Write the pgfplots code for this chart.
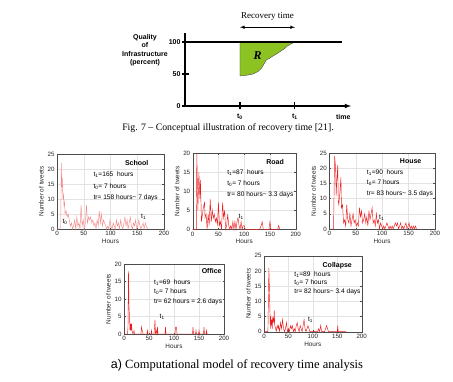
\documentclass[border=0pt]{standalone}
\usepackage{pgfplots}
\pgfplotsset{compat=1.18}
\usepackage{fontspec}
\setmainfont{Liberation Serif}
\setsansfont{Liberation Sans}
\definecolor{mred}{RGB}{235,30,30}
\definecolor{pinkred}{RGB}{245,140,140}
\definecolor{rgreen}{RGB}{140,195,35}
\pgfplotsset{
  small/.style={scale only axis, anchor=south west, xmin=0, xmax=200, ymin=0,
    xtick={0,50,...,200}, grid=major, grid style={gray!22, line width=0.3pt},
    axis line style={gray!60!black, line width=0.35pt},
    tick style={gray!60!black, line width=0.3pt}, major tick length=1.5pt, tick align=inside,
    /pgf/number format/assume math mode=true,
    ticklabel style={font=\sffamily\fontsize{6.2}{7}\selectfont, text=gray!30!black},
    xlabel={Hours}, ylabel={Number of tweets},
    label style={font=\sffamily\fontsize{6.4}{7}\selectfont, text=gray!30!black},
    xlabel style={yshift=3.5pt}, ylabel style={yshift=-3pt},
    xticklabel style={yshift=1pt}, yticklabel style={xshift=1pt},
    clip=false},
}
\tikzset{
  ann/.style={font=\sffamily\fontsize{6.6}{7}\selectfont, anchor=west, inner sep=0pt},
  ttl/.style={font=\sffamily\bfseries\fontsize{7}{7}\selectfont, inner sep=0pt},
}
\begin{document}
\begin{tikzpicture}
\path (0pt,0pt) rectangle (453pt,381pt);
% ---------------- conceptual plot ----------------
\begin{axis}[at={(185pt,275pt)}, anchor=south west, scale only axis, width=166pt, height=73pt,
  xmin=0, xmax=3.02, ymin=0, ymax=114, axis lines=left,
  x axis line style={-latex}, y axis line style={-},
  axis line style={line width=1.1pt},
  xtick={1,2}, xticklabels={t\textsubscript{0},t\textsubscript{1}},
  ytick={0,50,100}, tick align=center, major tick length=7pt,
  tick style={line width=1.1pt, black},
  /pgf/number format/assume math mode=true,
  ticklabel style={font=\sffamily\bfseries\fontsize{7}{8}\selectfont},
  yticklabel style={xshift=2.5pt}, xticklabel style={yshift=-1pt},
  clip=false]
\addplot[black, line width=1.1pt] coordinates {(0,100)(2.85,100)};
\addplot[fill=rgreen, draw=black!70, line width=0.4pt] coordinates {(1,100)(1,47)(1.12,48)(1.24,50)(1.33,54)(1.39,59)(1.44,66)(1.48,72)(1.53,74)(1.58,77)(1.66,81)(1.73,85)(1.8,89)(1.85,93)(1.93,97)(2,100)} -- cycle;
\addplot[black, line width=1.1pt] coordinates {(1,100)(2.85,100)};
\node[font=\bfseries\itshape\fontsize{12}{12}\selectfont] at (axis cs:1.32,79) {R};
\draw[latex-latex, line width=0.6pt] (axis cs:1,123) -- (axis cs:2,123);
\node[font=\fontsize{9}{9}\selectfont] at (axis cs:1.5,140) {Recovery time};
\node[font=\sffamily\bfseries\fontsize{7}{8}\selectfont] at (axis cs:2.88,-17) {time};
\end{axis}
\node[font=\sffamily\bfseries\fontsize{7}{8.5}\selectfont, align=center] at (145pt,331pt) {Quality\\of\\Infrastructure\\(percent)};
\node[font=\fontsize{9.8}{10}\selectfont] at (228pt,253pt) {Fig. 7 -- Conceptual illustration of recovery time [21].};
% ---------------- School ----------------
\begin{axis}[small, at={(57pt,152pt)}, width=107pt, height=75pt, ymax=25, ytick={0,5,...,25}]
\addplot[pinkred, line width=0.45pt] coordinates {(0,0)(5,0)(7,1)(8,22)(9,14)(10,17)(11,10)(12,12)(13,8)(14,9)(15,5)(17,6)(19,4)(21,5)(23,3)(25,1)(27,2)(29,0)(31,1)(33,3)(35,0)(37,4)(39,1)(41,2)(43,0)(45,8)(47,1)(49,3)(51,0)(53,2)(55,8)(57,2)(59,4)(61,3)(63,4)(65,2)(67,3)(69,1)(71,2)(73,0)(75,3)(77,1)(79,6)(81,2)(83,5)(85,1)(87,3)(89,2)(91,1)(93,0)(95,1)(97,0)(99,3)(101,1)(103,0)(105,2)(107,1)(109,0)(111,3)(113,1)(115,2)(117,0)(119,3)(121,1)(123,0)(125,2)(127,4)(129,1)(131,3)(133,0)(135,2)(137,4)(139,1)(141,0)(143,2)(145,1)(147,3)(149,0)(151,1)(153,3)(155,1)(157,0)(159,1)(161,2)(163,0)(165,2)(167,1)(169,0)};
\node[ttl] at (rel axis cs:0.745,0.885) {School};
\node[ann] at (rel axis cs:0.34,0.72) {t\textsubscript{1}=165\ \ hours};
\node[ann] at (rel axis cs:0.34,0.57) {t\textsubscript{0}= 7 hours};
\node[ann] at (rel axis cs:0.34,0.42) {tr= 158 hours\textasciitilde\ 7 days};
\node[ann] at (axis cs:10,2.4) {t\textsubscript{0}};
\node[ann] at (axis cs:157,4.2) {t\textsubscript{1}};
\end{axis}
% ---------------- Road ----------------
\begin{axis}[small, at={(192.7pt,151.7pt)}, width=103pt, height=76pt, ymax=20, ytick={0,5,...,20}]
\addplot[mred, line width=0.45pt] coordinates {(0,0)(5,0)(7,0)(8,20)(10,5)(12,15)(14,8)(15,13)(17,2)(19,4)(21,6)(23,7)(24,3)(26,4)(28,0)(30,4)(32,1)(34,8)(36,2)(38,5)(40,3)(42,4)(44,2)(46,3)(48,1)(50,7)(52,1)(54,2)(56,0)(58,7)(60,3)(62,5)(64,0)(66,1)(68,4)(70,1)(72,0)(74,1)(76,0)(78,2)(80,0)(82,2)(84,0)(86,2)(88,3)(90,1)(92,0)(94,2)(96,0)(98,1)(100,1)(102,0)(130,0)(133,1)(135,2)(137,0)(148,0)(150,2)(152,0)(165,0)(167,1)(169,0)};
\node[ttl] at (rel axis cs:0.80,0.89) {Road};
\node[ann] at (rel axis cs:0.335,0.745) {t\textsubscript{1}=87\ \ hours};
\node[ann] at (rel axis cs:0.335,0.605) {t\textsubscript{0}= 7 hours};
\node[ann] at (rel axis cs:0.335,0.46) {tr= 80 hours\textasciitilde\ 3.3 days};
\node[ann] at (axis cs:89,3.2) {t\textsubscript{1}};
\end{axis}
% ---------------- House ----------------
\begin{axis}[small, at={(329.3pt,152pt)}, width=105.7pt, height=76pt, ymax=25, ytick={0,5,...,25}]
\addplot[mred, line width=0.45pt] coordinates {(0,0)(5,0)(8,0)(10,24)(12,20)(13,11)(14,15)(16,21)(17,9)(18,8)(20,12)(22,17)(23,7)(25,8)(27,2)(29,3)(31,1)(33,8)(35,3)(37,2)(39,5)(41,1)(43,3)(45,5)(47,2)(49,3)(51,1)(53,2)(55,1)(57,7)(59,4)(61,6)(63,2)(65,3)(67,5)(69,2)(71,4)(73,1)(75,6)(77,3)(79,5)(81,7)(83,2)(85,3)(87,1)(89,5)(91,2)(93,3)(95,0)(97,2)(99,1)(101,0)(103,1)(105,0)(107,1)(109,2)(111,1)(113,0)(115,1)(117,0)(119,1)(121,0)(123,1)(125,2)(127,1)(129,2)(131,0)(133,1)(135,2)(137,0)(139,1)(141,0)(143,1)(145,2)(147,0)(149,1)(151,2)(153,0)(155,1)(157,0)(159,1)(161,0)(163,1)(165,0)};
\node[ttl] at (rel axis cs:0.77,0.89) {House};
\node[ann] at (rel axis cs:0.354,0.745) {t\textsubscript{1}=90\ \ hours};
\node[ann] at (rel axis cs:0.354,0.605) {t\textsubscript{0}= 7 hours};
\node[ann] at (rel axis cs:0.354,0.46) {tr= 83 hours\textasciitilde\ 3.5 days};
\node[ann] at (axis cs:94,3.6) {t\textsubscript{1}};
\end{axis}
% ---------------- Office ----------------
\begin{axis}[small, at={(124pt,47pt)}, width=100pt, height=70pt, ymax=20, ytick={0,5,...,20}]
\addplot[mred, line width=0.45pt] coordinates {(0,0)(7,0)(8,2)(9,18)(10,8)(11,5)(12,1)(13,3)(14,1)(15,3)(16,1)(18,0)(20,1)(21,0)(34,0)(35,2)(36,1)(37,1)(38,0)(46,0)(47,1)(48,0)(54,0)(55,1)(56,0)(60,0)(61,2)(62,4)(63,0)(65,1)(66,0)(67,2)(68,0)(82,0)(83,2)(84,0)(102,0)(103,2)(105,2)(106,0)(137,0)(138,2)(139,0)(143,0)(144,1)(145,0)(149,0)(150,1)(151,0)(159,0)(160,2)(161,0)(164,0)(165,1)(166,0)(168,0)};
\node[ttl] at (rel axis cs:0.877,0.90) {Office};
\node[ann] at (rel axis cs:0.30,0.74) {t\textsubscript{1}=69\ \ hours};
\node[ann] at (rel axis cs:0.30,0.60) {t\textsubscript{0}= 7 hours};
\node[ann] at (rel axis cs:0.30,0.46) {tr= 62 hours = 2.6 days};
\node[ann] at (axis cs:71,5) {t\textsubscript{1}};
\end{axis}
% ---------------- Collapse ----------------
\begin{axis}[small, at={(264pt,49.3pt)}, width=97.7pt, height=76pt, ymax=25, ytick={0,5,...,25}]
\addplot[mred, line width=0.45pt] coordinates {(0,0)(8,0)(10,21)(12,8)(13,1)(14,5)(15,2)(16,4)(17,1)(18,5)(20,3)(21,7)(22,2)(24,1)(25,0)(27,2)(29,1)(30,2)(32,0)(34,3)(36,1)(38,4)(40,1)(42,0)(44,1)(46,3)(48,0)(50,1)(52,0)(54,2)(56,1)(58,2)(60,0)(62,1)(64,0)(66,2)(68,3)(70,1)(72,0)(74,2)(76,1)(78,0)(80,2)(82,4)(84,1)(86,0)(88,1)(90,2)(92,1)(94,0)(110,0)(112,1)(114,0)(116,2)(118,0)(124,0)(126,1)(128,2)(130,1)(132,0)(150,0)(151,2)(152,0)(168,0)};
\node[ttl] at (rel axis cs:0.75,0.87) {Collapse};
\node[ann] at (rel axis cs:0.31,0.755) {t\textsubscript{1}=89\ \ hours};
\node[ann] at (rel axis cs:0.31,0.64) {t\textsubscript{0}= 7 hours};
\node[ann] at (rel axis cs:0.31,0.52) {tr= 82 hours\textasciitilde\ 3.4 days};
\node[ann] at (axis cs:90,3.8) {t\textsubscript{1}};
\end{axis}
\node[font=\fontsize{12.5}{13}\selectfont] at (237pt,16pt) {\textsf{a)} Computational model of recovery time analysis};
\end{tikzpicture}
\end{document}
